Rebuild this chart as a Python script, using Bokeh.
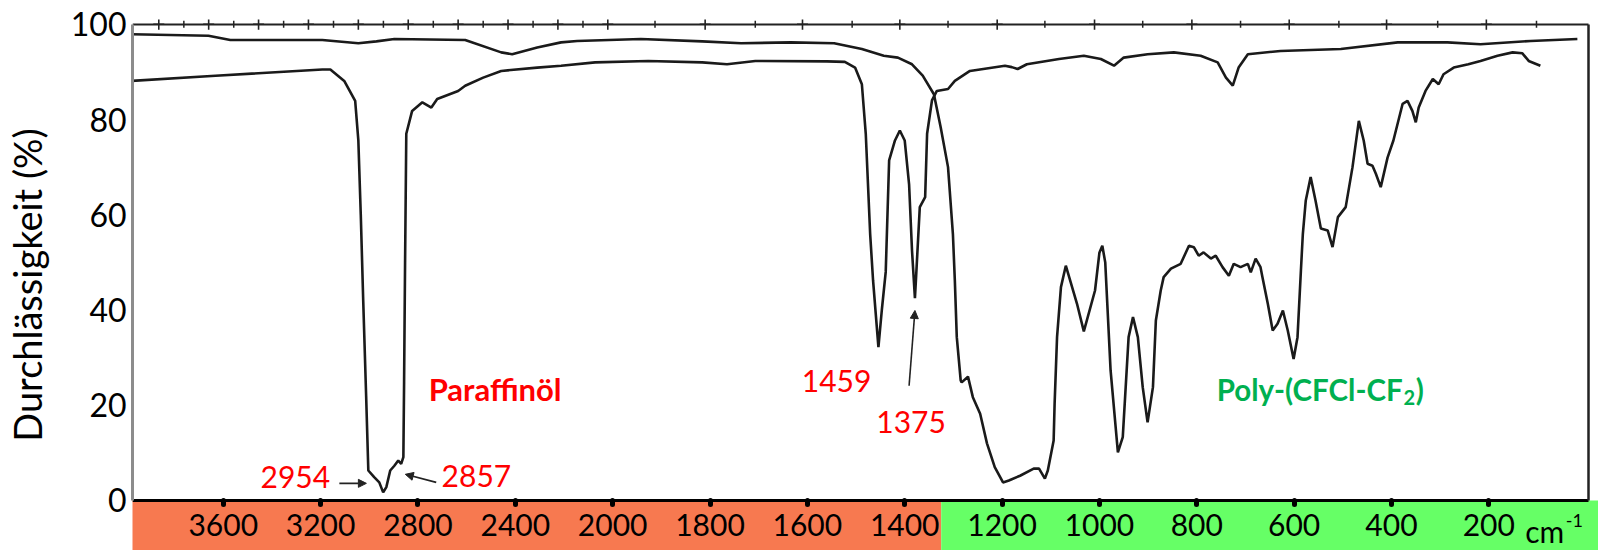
import numpy as np
from bokeh.plotting import figure
from bokeh.models import Range1d, LinearAxis, FixedTicker, ColumnDataSource, Arrow, NormalHead
from bokeh.core.properties import value
from bokeh.embed import file_html
from bokeh.resources import INLINE

# ---------------- data ----------------
paraffin_cm = [3977, 3632, 3193, 3160, 3103, 3058, 3045, 3035, 3025, 3013,
               3004, 2980, 2959, 2943, 2930, 2914, 2897, 2881, 2869, 2860,
               2857, 2853, 2848, 2824, 2782, 2745, 2721, 2635, 2606, 2532,
               2458, 2310, 2212, 2072, 1927, 1816, 1765, 1707, 1560, 1523,
               1502, 1488, 1480, 1471, 1465, 1454, 1447, 1439, 1432, 1420,
               1410, 1400, 1391, 1385, 1379, 1377, 1369, 1358, 1354, 1344,
               1334, 1311, 1297, 1266, 1194, 1180, 1168, 1149, 1083, 1032,
               997, 970, 950, 901, 847, 792, 757, 740, 726, 714,
               695, 628, 504, 387, 285, 217, 114, 18]
paraffin_T = [88.1, 89.2, 90.5, 90.5, 88.1, 83.9, 75.6, 60, 42, 22,
              6.3, 4.9, 3.8, 1.7, 2.8, 6.3, 7.3, 8.4, 7.7, 9.1,
              25, 50, 77, 81.8, 83.6, 82.5, 84.3, 86.0, 87.1, 88.8,
              90.2, 90.9, 91.3, 92.0, 92.3, 92.0, 91.6, 92.3, 92.2, 92.1,
              90.9, 87.4, 77, 56, 46.2, 32.2, 40, 48, 71.4, 75.6,
              77.7, 75.6, 66.4, 52.5, 42.5, 46.2, 61.6, 63.7, 77, 84,
              86, 86.4, 88.1, 90.2, 91.3, 91, 90.6, 91.6, 92.7, 93.4,
              92.7, 91.3, 93.0, 93.7, 94.1, 93.4, 92, 88.8, 87.1, 90.9,
              93.7, 94.4, 94.8, 96.2, 96.2, 95.8, 96.5, 96.9]

poly_cm = [3977, 3661, 3571, 3193, 3045, 2971, 2897, 2606, 2458, 2413,
           2310, 2212, 2146, 1942, 1816, 1736, 1634, 1545, 1488, 1443,
           1414, 1385, 1363, 1340, 1326, 1311, 1301, 1297, 1293, 1285,
           1283, 1270, 1260, 1245, 1231, 1215, 1198, 1186, 1163, 1135,
           1124, 1112, 1106, 1094, 1092, 1087, 1079, 1069, 1046, 1032,
           1009, 1000, 994, 988, 977, 962, 952, 940, 931, 921,
           911, 901, 890, 884, 874, 868, 853, 833, 816, 806,
           796, 786, 771, 761, 747, 734, 724, 710, 695, 689,
           679, 669, 665, 654, 644, 634, 623, 613, 601, 593,
           586, 582, 576, 566, 556, 545, 531, 521, 510, 494,
           480, 467, 457, 449, 439, 432, 422, 408, 396, 377,
           367, 357, 350, 344, 330, 315, 303, 293, 272, 242,
           217, 182, 151, 131, 118, 94]
poly_T = [97.9, 97.6, 96.7, 96.7, 96.0, 96.4, 96.9, 96.7, 94.1, 93.7,
          95.1, 96.2, 96.5, 96.9, 96.4, 96.0, 96.2, 96.0, 94.8, 93.4,
          93.0, 91.6, 89.2, 85.3, 78.3, 70, 56, 46.2, 34.3, 25.2,
          24.8, 26, 21.7, 18.2, 12, 7, 3.8, 4.2, 5.2, 6.7,
          6.7, 4.6, 6.3, 12.6, 20.4, 34.3, 44.8, 49.3, 41.3, 35.5,
          44.1, 52, 53.5, 50, 27.3, 10.1, 13.3, 34.3, 38.5, 34.3,
          23.8, 16.4, 23.8, 37.8, 44.1, 46.9, 48.7, 49.7, 53.5, 53.2,
          51.4, 52.1, 50.8, 51.4, 49, 47.2, 49.7, 49, 49.7, 47.9,
          50.8, 49, 46.9, 41.3, 35.7, 37.1, 39.9, 35.7, 29.7, 34.3,
          48.3, 56, 63, 67.9, 63, 57.1, 56.7, 53.2, 59.5, 61.6,
          70, 79.7, 75.6, 70.7, 70.3, 68.6, 65.8, 72, 75.6, 83.3,
          83.9, 81.8, 79.4, 82.5, 86, 88.5, 87.4, 89.5, 90.9, 91.6,
          92.3, 93.4, 94.1, 93.9, 92.3, 91.3]

x_tick_cm = [3600, 3200, 2800, 2400, 2000, 1800, 1600, 1400, 1200, 1000, 800, 600, 400, 200]
y_ticks = [0, 20, 40, 60, 80, 100]

top_major_cm = [3865, 3660, 3455, 3250, 3045, 2840, 2635, 2430, 2225, 2020,
                1810, 1610, 1410, 1210, 1010, 810, 610, 410, 205]
top_minor_cm = [3762, 3557, 3352, 3147, 2942, 2737, 2532, 2327, 2122,
                1913, 1707, 1508, 1311, 1112, 911, 710, 508, 305, 102]

band_start_cm = [4100, 1325]
band_end_cm = [1325, -40]
band_colors = ["#F77950", "#66FF66"]

peak_text = ["2954", "2857", "1459", "1375"]
peak_cm = [3304, 2560, 1540, 1387]
peak_T = [4.9, 5.1, 25.1, 16.5]

arrow_from_cm = [3123, 2725, 1391]
arrow_from_T = [3.6, 3.8, 24.1]
arrow_to_cm = [3012, 2852, 1379]
arrow_to_T = [3.6, 5.5, 39.9]

FRAME_LEFT_CM = 3973
FRAME_RIGHT_CM = -5

FONT = "Lato"


def to_u(w):
    """IR abscissa: 400 cm-1 per unit above 2000 cm-1, 200 cm-1 per unit below."""
    w = np.asarray(w, dtype=float)
    return np.where(w >= 2000, (2000 - w) / 400.0, (2000 - w) / 200.0)


u_left = float(to_u(FRAME_LEFT_CM))
u_right_frame = float(to_u(FRAME_RIGHT_CM))

p = figure(width=1598, height=550, output_backend="svg", toolbar_location=None,
           x_range=Range1d(u_left, 10.127), y_range=Range1d(-10.5, 101),
           x_axis_type=None, y_axis_type=None,
           min_border_left=131, min_border_right=0, min_border_top=19, min_border_bottom=0,
           outline_line_color=None, background_fill_color="white", border_fill_color="white")

# coloured band under the abscissa
p.quad(left=to_u(band_start_cm), right=to_u(band_end_cm), bottom=-10.5, top=0,
       fill_color=band_colors, line_color=None)

# spectra
p.line(to_u(poly_cm), poly_T, line_color="#1a1a1a", line_width=2.6)
p.line(to_u(paraffin_cm), paraffin_T, line_color="#1a1a1a", line_width=2.6)

# top grid of the original chart paper
p.scatter(to_u(top_major_cm), [100] * len(top_major_cm), marker="cross", size=11,
          line_color="#222222", line_width=1.6)
p.scatter(to_u(top_minor_cm), [100] * len(top_minor_cm), marker="dash", angle=np.pi / 2,
          size=7, line_color="#222222", line_width=1.5)

# axes
yaxis = LinearAxis(ticker=FixedTicker(ticks=y_ticks), bounds=(0, 100),
                   axis_line_color="#8c8c8c", axis_line_width=3,
                   major_tick_line_color=None, minor_tick_line_color=None,
                   major_tick_in=0, major_tick_out=0,
                   major_label_text_font=FONT, major_label_text_font_size="32px",
                   major_label_text_color="black", major_label_standoff=6,
                   axis_label="Durchlässigkeit (%)", axis_label_text_font=FONT,
                   axis_label_text_font_size="38px", axis_label_text_font_style="normal",
                   axis_label_text_color="black", axis_label_standoff=18)
p.add_layout(yaxis, "left")

u_ticks = [int(round(float(v))) for v in to_u(x_tick_cm)]
xaxis = LinearAxis(ticker=FixedTicker(ticks=u_ticks), fixed_location=0,
                   bounds=(u_left, u_right_frame),
                   axis_line_color="black", axis_line_width=3,
                   major_tick_line_color="black", major_tick_line_width=5,
                   major_tick_line_cap="round", major_tick_in=0, major_tick_out=4,
                   minor_tick_line_color=None,
                   major_label_overrides={t: str(c) for t, c in zip(u_ticks, x_tick_cm)},
                   major_label_text_font=FONT, major_label_text_font_size="30px",
                   major_label_text_color="black", major_label_standoff=10)
p.add_layout(xaxis, "below")

top_line = LinearAxis(ticker=FixedTicker(ticks=[]), fixed_location=100,
                      bounds=(u_left, u_right_frame), axis_line_color="#222222",
                      axis_line_width=2)
p.add_layout(top_line, "above")
right_line = LinearAxis(ticker=FixedTicker(ticks=[]), fixed_location=u_right_frame,
                        bounds=(0, 100), axis_line_color="#222222", axis_line_width=2.5)
p.add_layout(right_line, "right")

# annotations
p.text(x=to_u(peak_cm), y=peak_T, text=peak_text, text_color="#FF0000",
       text_font=value(FONT), text_font_size="30px", text_align="center",
       text_baseline="alphabetic")

p.text(x=to_u([2483]), y=[23.4], text=["Paraffinöl"], text_color="#FF0000",
       text_font=value(FONT), text_font_size="31px", text_font_style="bold",
       text_align="center", text_baseline="alphabetic")

p.text(x=to_u([377]), y=[23.4], text=["Poly-(CFCl-CF"], text_color="#00B050",
       text_font=value(FONT), text_font_size="29.5px", text_font_style="bold",
       text_align="right", text_baseline="alphabetic")
p.text(x=to_u([375]), y=[21.7], text=["2"], text_color="#00B050",
       text_font=value(FONT), text_font_size="20px", text_font_style="bold",
       text_align="left", text_baseline="alphabetic")
p.text(x=to_u([350]), y=[23.4], text=[")"], text_color="#00B050",
       text_font=value(FONT), text_font_size="29.5px", text_font_style="bold",
       text_align="left", text_baseline="alphabetic")

p.text(x=to_u([125]), y=[-6.4], text=["cm"], text_color="black",
       text_font=value(FONT), text_font_size="30px", text_align="left",
       text_baseline="alphabetic")
p.text(x=to_u([42]), y=[-4.2], text=["-1"], text_color="black",
       text_font=value(FONT), text_font_size="18px", text_align="left",
       text_baseline="alphabetic")

arrows = ColumnDataSource(dict(x0=to_u(arrow_from_cm), y0=arrow_from_T,
                               x1=to_u(arrow_to_cm), y1=arrow_to_T))
p.add_layout(Arrow(end=NormalHead(size=8, fill_color="#222222", line_color="#222222"),
                   x_start="x0", y_start="y0", x_end="x1", y_end="y1", source=arrows,
                   line_color="#222222", line_width=1.6))

open("out.html", "w").write(file_html(p, INLINE))
